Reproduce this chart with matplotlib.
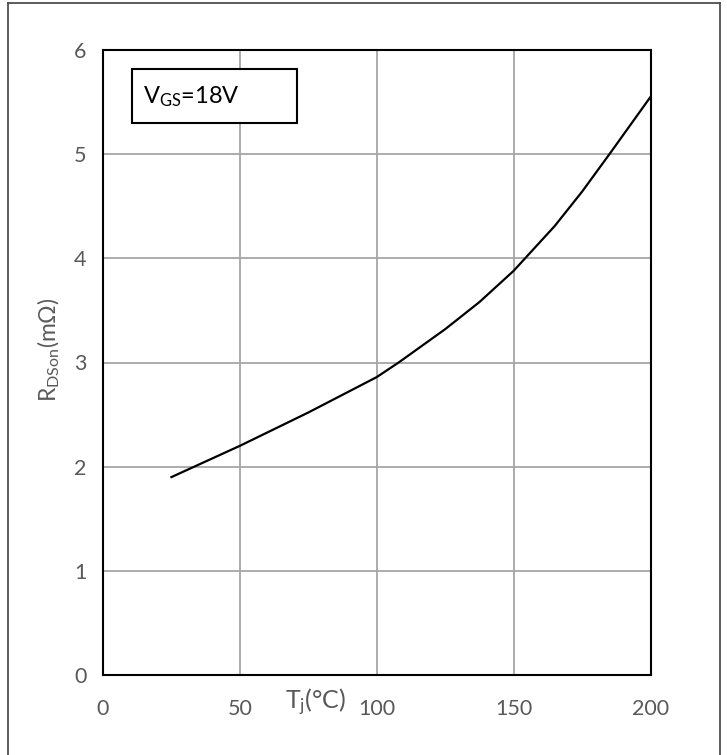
import matplotlib
matplotlib.use("Agg")
import matplotlib.pyplot as plt
from matplotlib.lines import Line2D
from matplotlib.patches import Rectangle

# values
tj = [25, 50, 75, 100, 108, 125, 137.5, 150, 165, 175, 185, 200]
rds_on = [1.90, 2.20, 2.52, 2.86, 3.00, 3.32, 3.58, 3.88, 4.31, 4.64, 5.00, 5.55]
x_ticks = [0, 50, 100, 150, 200]
y_ticks = [0, 1, 2, 3, 4, 5, 6]

plt.rcParams["font.family"] = ["Lato", "DejaVu Sans"]
plt.rcParams["mathtext.fontset"] = "custom"
plt.rcParams["mathtext.rm"] = "Lato"
plt.rcParams["mathtext.it"] = "Lato:italic"

W, H = 727, 755
text_gray = "#595959"

fig = plt.figure(figsize=(W / 100, H / 100), dpi=100)
ax = fig.add_axes([103 / W, 1 - 675 / H, 547.5 / W, 625 / H])

ax.plot(tj, rds_on, color="black", lw=1.6, zorder=3)

ax.set_xlim(0, 200)
ax.set_ylim(0, 6)
ax.set_xticks(x_ticks)
ax.set_yticks(y_ticks)
ax.grid(True, color="#a6a6a6", lw=1.3)
ax.set_axisbelow(True)
for s in ax.spines.values():
    s.set_color("black")
    s.set_linewidth(1.5)
ax.tick_params(axis="both", length=0, labelsize=15.5, labelcolor=text_gray)
ax.tick_params(axis="x", pad=17)
ax.tick_params(axis="y", pad=12)

# axis titles
fig.text(316 / W, 1 - 702 / H, r"T$_{\mathregular{j}}$(°C)", ha="center", va="center",
         fontsize=18, color=text_gray)
fig.text(49 / W, 1 - 350 / H, r"R$_{\mathregular{DSon}}$(mΩ)", ha="center", va="center",
         rotation=90, fontsize=16.5, color=text_gray)

# condition box
ax.add_patch(Rectangle((0.053, 0.883), 0.301, 0.087, transform=ax.transAxes,
                       facecolor="white", edgecolor="black", lw=1.5, zorder=4))
ax.text(0.073, 0.914, r"V$_{\mathregular{GS}}$=18V", transform=ax.transAxes,
        fontsize=17, color="black", va="baseline", zorder=5)

# outer frame (top, left, right)
frame_kw = dict(color="#404040", lw=1.2, transform=fig.transFigure)
fig.add_artist(Line2D([8 / W, 719.5 / W], [1 - 3 / H, 1 - 3 / H], **frame_kw))
fig.add_artist(Line2D([8 / W, 8 / W], [0, 1 - 3 / H], **frame_kw))
fig.add_artist(Line2D([719.5 / W, 719.5 / W], [0, 1 - 3 / H], **frame_kw))

fig.savefig("out.png", dpi=100)
